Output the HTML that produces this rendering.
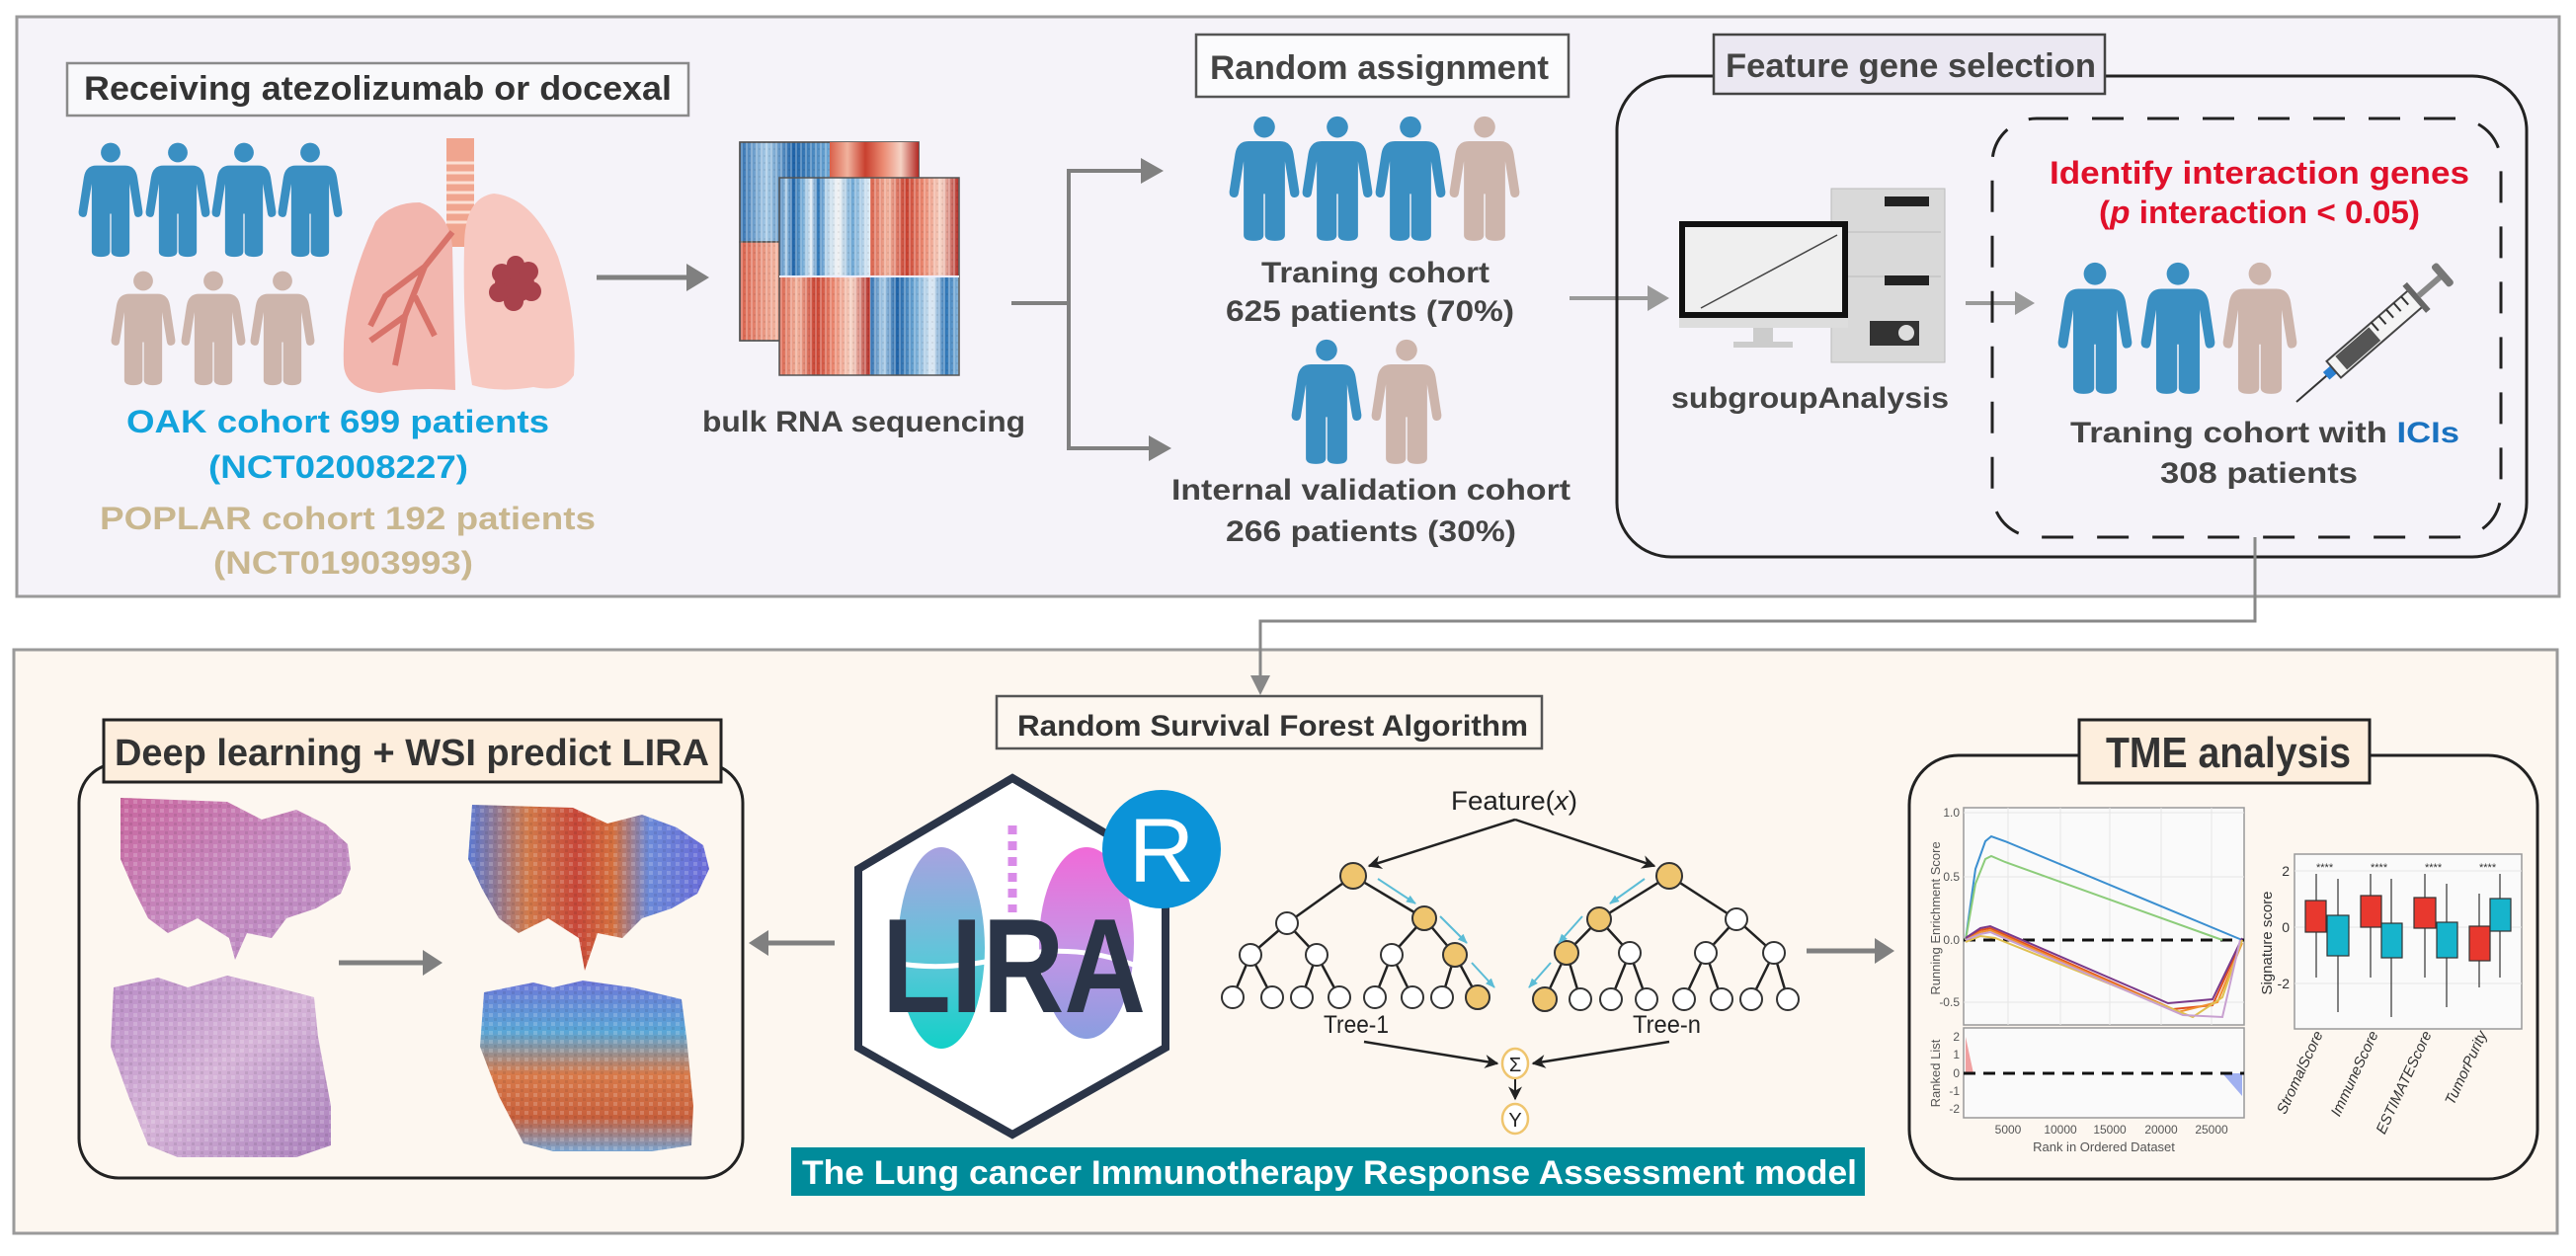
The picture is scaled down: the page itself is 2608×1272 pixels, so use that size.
<!DOCTYPE html>
<html><head><meta charset="utf-8"><style>
html,body{margin:0;padding:0;background:#fff}
svg{display:block}
text{font-family:"Liberation Sans",Arial,sans-serif}
</style></head><body>
<svg width="2608" height="1272" viewBox="0 0 2608 1272" xmlns="http://www.w3.org/2000/svg">
<defs>
<symbol id="p" viewBox="0 0 100 176"><circle cx="50" cy="16" r="15"/><path d="M28,36 H72 Q88,36 91,54 L99,106 Q100,114 93,115 Q87,116 86,108 L79,64 V168 Q79,176 65,176 Q51,176 51,168 V110 H49 V168 Q49,176 35,176 Q21,176 21,168 V64 L14,108 Q13,116 7,115 Q0,114 1,106 L9,54 Q12,36 28,36 Z"/></symbol>
<marker id="ab" viewBox="0 0 10 10" refX="9" refY="5" markerWidth="14" markerHeight="14" orient="auto" markerUnits="userSpaceOnUse"><path d="M0,0 L10,5 L0,10 L3,5Z" fill="#222"/></marker>
<marker id="ac" viewBox="0 0 10 10" refX="9" refY="5" markerWidth="10" markerHeight="10" orient="auto" markerUnits="userSpaceOnUse"><path d="M0,1 L10,5 L0,9Z" fill="#5bbcd6"/></marker>
<linearGradient id="hb" x1="0" x2="1"><stop offset="0" stop-color="#2f6fb0"/><stop offset=".15" stop-color="#a8cbe6"/><stop offset=".3" stop-color="#1f63a8"/><stop offset=".5" stop-color="#6da7d4"/><stop offset=".7" stop-color="#dfeaf4"/><stop offset=".85" stop-color="#2d75b6"/><stop offset="1" stop-color="#8cb9de"/></linearGradient>
<linearGradient id="hr" x1="0" x2="1"><stop offset="0" stop-color="#d9604a"/><stop offset=".2" stop-color="#f1b29d"/><stop offset=".4" stop-color="#c8402f"/><stop offset=".6" stop-color="#eb8a72"/><stop offset=".8" stop-color="#f5d2c4"/><stop offset="1" stop-color="#b22a24"/></linearGradient>
<linearGradient id="hm" x1="0" x2="1"><stop offset="0" stop-color="#a8cbe6"/><stop offset=".3" stop-color="#f3f3f3"/><stop offset=".6" stop-color="#6da7d4"/><stop offset="1" stop-color="#e4eef6"/></linearGradient>
<pattern id="hs" width="5" height="7" patternUnits="userSpaceOnUse"><rect width="2" height="7" fill="#fff" opacity=".25"/><rect x="3" y="3" width="2" height="2" fill="#000" opacity=".06"/></pattern>
<linearGradient id="he" x1="0" y1="0" x2="1" y2="1"><stop offset="0" stop-color="#c9679f"/><stop offset=".5" stop-color="#c58ac0"/><stop offset="1" stop-color="#b98dc4"/></linearGradient>
<linearGradient id="he2" x1="0" y1="0" x2="1" y2="1"><stop offset="0" stop-color="#b98cc6"/><stop offset=".5" stop-color="#d6b4d8"/><stop offset="1" stop-color="#a97fbb"/></linearGradient>
<linearGradient id="ht1" x1="0" y1="0" x2="1" y2="0"><stop offset="0" stop-color="#5a78d2"/><stop offset=".25" stop-color="#d27a4a"/><stop offset=".45" stop-color="#c8483a"/><stop offset=".6" stop-color="#d4703e"/><stop offset=".75" stop-color="#6c8ad8"/><stop offset="1" stop-color="#6a6ad8"/></linearGradient>
<linearGradient id="ht2" x1="0" y1="0" x2="0" y2="1"><stop offset="0" stop-color="#6e78d8"/><stop offset=".3" stop-color="#5aa6d6"/><stop offset=".55" stop-color="#d87a4a"/><stop offset=".8" stop-color="#c8603c"/><stop offset="1" stop-color="#7aa4d0"/></linearGradient>
<pattern id="tx" width="9" height="9" patternUnits="userSpaceOnUse"><rect width="4" height="4" fill="#fff" opacity=".18"/><rect x="5" y="5" width="3" height="3" fill="#000" opacity=".08"/></pattern>
<linearGradient id="lg1" x1="0" y1="0" x2="0" y2="1"><stop offset="0" stop-color="#a9a1e0"/><stop offset=".55" stop-color="#5ec6d9"/><stop offset="1" stop-color="#12d0c8"/></linearGradient>
<linearGradient id="lg2" x1="0" y1="0" x2="0" y2="1"><stop offset="0" stop-color="#f06ad8"/><stop offset=".5" stop-color="#c893e6"/><stop offset="1" stop-color="#8a9ee0"/></linearGradient>
</defs>

<rect width="2608" height="1272" fill="#fff"/>
<rect x="17" y="17" width="2574" height="587" fill="#f5f3f9" stroke="#9a9a9a" stroke-width="3"/>
<rect x="68" y="64" width="629" height="53" fill="#f9f9fb" stroke="#8a8a8a" stroke-width="2.5"/>
<text x="85" y="101" font-size="34" font-weight="bold" fill="#333" textLength="595" lengthAdjust="spacingAndGlyphs">Receiving atezolizumab or docexal</text>

<g fill="#3a8fc2">
<use href="#p" x="79" y="139" width="66" height="126"/>
<use href="#p" x="147" y="139" width="66" height="126"/>
<use href="#p" x="214" y="139" width="66" height="126"/>
<use href="#p" x="281" y="139" width="66" height="126"/>
</g>
<g fill="#cdb5ac">
<use href="#p" x="112" y="270" width="66" height="124"/>
<use href="#p" x="183" y="270" width="66" height="124"/>
<use href="#p" x="253" y="270" width="66" height="124"/>
</g>
<g>
<rect x="452" y="140" width="28" height="110" fill="#f0a58f"/>
<g stroke="#fbe0d4" stroke-width="3"><line x1="452" y1="165" x2="480" y2="165"/><line x1="452" y1="175" x2="480" y2="175"/><line x1="452" y1="185" x2="480" y2="185"/><line x1="452" y1="195" x2="480" y2="195"/><line x1="452" y1="205" x2="480" y2="205"/><line x1="452" y1="215" x2="480" y2="215"/><line x1="452" y1="225" x2="480" y2="225"/></g>
<path d="M380,225 Q395,205 425,205 Q455,215 458,250 L461,395 Q420,392 385,398 Q350,395 348,370 Q345,300 380,225Z" fill="#f2b6ae"/>
<path d="M470,250 Q470,200 500,196 Q540,200 565,260 Q585,320 581,380 Q570,398 540,392 Q505,398 478,390 Q468,330 470,250Z" fill="#f7c8c0"/>
<path d="M458,235 L430,270 L410,320 L400,370 M430,270 L390,300 L375,330 M410,320 L375,345 M420,300 L440,340" stroke="#d8736a" stroke-width="6" fill="none"/>
<g fill="#a8424c"><circle cx="521" cy="287" r="20"/><circle cx="508" cy="277" r="10"/><circle cx="535" cy="275" r="10"/><circle cx="538" cy="295" r="10"/><circle cx="520" cy="305" r="10"/><circle cx="505" cy="296" r="10"/><circle cx="522" cy="268" r="9"/></g>
</g>
<text x="128" y="438" font-size="32" font-weight="bold" fill="#12a3dc" textLength="428" lengthAdjust="spacingAndGlyphs">OAK cohort 699 patients</text>
<text x="211" y="484" font-size="32" font-weight="bold" fill="#12a3dc" textLength="263" lengthAdjust="spacingAndGlyphs">(NCT02008227)</text>
<text x="101" y="536" font-size="32" font-weight="bold" fill="#c9b78f" textLength="502" lengthAdjust="spacingAndGlyphs">POPLAR cohort 192 patients</text>
<text x="216" y="581" font-size="32" font-weight="bold" fill="#c9b78f" textLength="263" lengthAdjust="spacingAndGlyphs">(NCT01903993)</text>

<line x1="604" y1="281" x2="700" y2="281" stroke="#808080" stroke-width="5"/>
<path d="M695,267 L718,281 L695,295Z" fill="#808080"/>
<g stroke="#555" stroke-width="1.5">
<rect x="749" y="144" width="181" height="101" fill="url(#hb)"/>
<rect x="749" y="245" width="181" height="100" fill="url(#hr)"/>
<rect x="749" y="144" width="181" height="201" fill="url(#hs)"/>
<rect x="840" y="144" width="90" height="36" fill="url(#hr)" stroke="none"/>
<rect x="789" y="180" width="46" height="100" fill="url(#hb)" stroke="none"/>
<rect x="835" y="180" width="46" height="100" fill="url(#hm)" stroke="none"/>
<rect x="881" y="180" width="90" height="100" fill="url(#hr)" stroke="none"/>
<rect x="789" y="281" width="92" height="99" fill="url(#hr)" stroke="none"/>
<rect x="881" y="281" width="90" height="99" fill="url(#hb)" stroke="none"/>
<rect x="789" y="180" width="182" height="200" fill="url(#hs)"/>
<line x1="789" y1="280" x2="971" y2="280" stroke="#eef" stroke-width="2"/>
</g>
<text x="711" y="437" font-size="30" font-weight="bold" fill="#444" textLength="327" lengthAdjust="spacingAndGlyphs">bulk RNA sequencing</text>

<path d="M1024,307 H1082 V173 H1160 M1082,307 V454 H1168" fill="none" stroke="#808080" stroke-width="4"/>
<path d="M1155,160 L1178,173 L1155,186Z M1163,441 L1186,454 L1163,467Z" fill="#808080"/>

<rect x="1211" y="35" width="377" height="63" fill="#fbfbfd" stroke="#555" stroke-width="2.5"/>
<text x="1225" y="80" font-size="34" font-weight="bold" fill="#444" textLength="343" lengthAdjust="spacingAndGlyphs">Random assignment</text>
<g fill="#3a8fc2"><use href="#p" x="1244" y="110" width="72" height="141"/><use href="#p" x="1318" y="110" width="72" height="141"/><use href="#p" x="1392" y="110" width="72" height="141"/></g>
<use href="#p" x="1467" y="110" width="72" height="141" fill="#cdb5ac"/>
<text x="1277" y="286" font-size="30" font-weight="bold" fill="#444" textLength="231" lengthAdjust="spacingAndGlyphs">Traning cohort</text>
<text x="1241" y="325" font-size="30" font-weight="bold" fill="#444" textLength="292" lengthAdjust="spacingAndGlyphs">625 patients (70%)</text>
<use href="#p" x="1307" y="336" width="72" height="141" fill="#3a8fc2"/>
<use href="#p" x="1388" y="336" width="72" height="141" fill="#cdb5ac"/>
<text x="1186" y="506" font-size="30" font-weight="bold" fill="#444" textLength="404" lengthAdjust="spacingAndGlyphs">Internal validation cohort</text>
<text x="1241" y="548" font-size="30" font-weight="bold" fill="#444" textLength="294" lengthAdjust="spacingAndGlyphs">266 patients (30%)</text>

<line x1="1589" y1="302" x2="1675" y2="302" stroke="#9a9a9a" stroke-width="4"/>
<path d="M1668,289 L1690,302 L1668,315Z" fill="#9a9a9a"/>

<rect x="1637" y="77" width="921" height="487" rx="55" fill="none" stroke="#222" stroke-width="3"/>
<rect x="1735" y="35" width="396" height="60" fill="#ebe8f2" stroke="#444" stroke-width="2.5"/>
<text x="1747" y="78" font-size="34" font-weight="bold" fill="#444" textLength="375" lengthAdjust="spacingAndGlyphs">Feature gene selection</text>
<rect x="1854" y="191" width="115" height="176" fill="#d9d9d9" stroke="#bbb"/>
<rect x="1908" y="199" width="45" height="10" fill="#222"/>
<line x1="1858" y1="235" x2="1965" y2="235" stroke="#bbb"/><line x1="1858" y1="280" x2="1965" y2="280" stroke="#bbb"/>
<rect x="1908" y="279" width="45" height="10" fill="#222"/>
<rect x="1893" y="325" width="50" height="25" fill="#333"/><circle cx="1930" cy="337" r="8" fill="#ddd"/>
<rect x="1700" y="224" width="171" height="98" fill="#111"/>
<rect x="1706" y="230" width="159" height="86" fill="#efefef"/>
<line x1="1722" y1="312" x2="1860" y2="238" stroke="#444" stroke-width="1.5"/>
<rect x="1700" y="322" width="171" height="10" fill="#ddd"/>
<rect x="1775" y="332" width="20" height="14" fill="#ccc"/><rect x="1755" y="346" width="60" height="6" fill="#ccc"/>
<text x="1692" y="413" font-size="30" font-weight="bold" fill="#444" textLength="281" lengthAdjust="spacingAndGlyphs">subgroupAnalysis</text>

<line x1="1990" y1="307" x2="2045" y2="307" stroke="#9a9a9a" stroke-width="4"/>
<path d="M2040,295 L2060,307 L2040,319Z" fill="#9a9a9a"/>

<rect x="2017" y="120" width="515" height="424" rx="45" fill="none" stroke="#222" stroke-width="3" stroke-dasharray="32 24"/>
<text x="2075" y="186" font-size="32" font-weight="bold" fill="#e0102a" textLength="425" lengthAdjust="spacingAndGlyphs">Identify interaction genes</text>
<text x="2125" y="226" font-size="32" font-weight="bold" fill="#e0102a" textLength="325" lengthAdjust="spacingAndGlyphs">(<tspan font-style="italic">p</tspan> interaction &lt; 0.05)</text>
<g fill="#3a8fc2"><use href="#p" x="2083" y="255" width="76" height="154"/><use href="#p" x="2167" y="255" width="76" height="154"/></g>
<use href="#p" x="2250" y="255" width="76" height="154" fill="#cdb5ac"/>
<g transform="translate(2325,407) rotate(-41)">
<line x1="0" y1="0" x2="45" y2="0" stroke="#333" stroke-width="2"/>
<rect x="40" y="-5" width="10" height="10" fill="#2a7fd0"/>
<rect x="50" y="-11" width="110" height="22" fill="#f4f4f4" stroke="#444" stroke-width="2"/>
<rect x="60" y="-9" width="45" height="18" fill="#555"/>
<g stroke="#333" stroke-width="2"><line x1="110" y1="-11" x2="110" y2="0"/><line x1="120" y1="-11" x2="120" y2="0"/><line x1="130" y1="-11" x2="130" y2="0"/><line x1="140" y1="-11" x2="140" y2="0"/><line x1="150" y1="-11" x2="150" y2="0"/></g>
<rect x="158" y="-18" width="6" height="36" fill="#666"/>
<rect x="164" y="-3" width="30" height="6" fill="#888"/>
<rect x="192" y="-14" width="8" height="28" rx="3" fill="#777"/>
</g>
<text x="2096" y="448" font-size="30" font-weight="bold" fill="#444" textLength="394" lengthAdjust="spacingAndGlyphs">Traning cohort with <tspan fill="#1a72c0">ICIs</tspan></text>
<text x="2187" y="489" font-size="30" font-weight="bold" fill="#444" textLength="200" lengthAdjust="spacingAndGlyphs">308 patients</text>

<rect x="14" y="658" width="2575" height="591" fill="#fdf7f0" stroke="#9a9a9a" stroke-width="3"/>
<path d="M2283,544 V629 H1276 V690" fill="none" stroke="#888" stroke-width="3"/>
<path d="M1266,684 L1276,704 L1286,684Z" fill="#888"/>
<rect x="1009" y="705" width="552" height="53" fill="none" stroke="#555" stroke-width="2.5"/>
<text x="1030" y="745" font-size="30" font-weight="bold" fill="#333" textLength="517" lengthAdjust="spacingAndGlyphs">Random Survival Forest Algorithm</text>

<rect x="80" y="773" width="672" height="420" rx="40" fill="none" stroke="#222" stroke-width="3"/>
<rect x="105" y="729" width="625" height="63" fill="#fdeedd" stroke="#222" stroke-width="3"/>
<text x="116" y="775" font-size="38" font-weight="bold" fill="#333" textLength="602" lengthAdjust="spacingAndGlyphs">Deep learning + WSI predict LIRA</text>
<polygon points="122,808 230,812 265,830 300,820 330,835 352,855 355,880 345,905 320,920 290,930 275,950 250,945 238,972 232,950 200,930 170,945 150,930 135,900 122,870" fill="url(#he)"/>
<polygon points="122,808 230,812 265,830 300,820 330,835 352,855 355,880 345,905 320,920 290,930 275,950 250,945 238,972 232,950 200,930 170,945 150,930 135,900 122,870" fill="url(#tx)"/>
<polygon points="115,1000 160,990 190,1000 230,988 280,1000 318,1010 322,1050 335,1120 335,1160 300,1172 180,1172 150,1160 130,1110 112,1060" fill="url(#he2)"/>
<polygon points="115,1000 160,990 190,1000 230,988 280,1000 318,1010 322,1050 335,1120 335,1160 300,1172 180,1172 150,1160 130,1110 112,1060" fill="url(#tx)"/>
<line x1="343" y1="975" x2="430" y2="975" stroke="#808080" stroke-width="5"/>
<path d="M428,962 L448,975 L428,988Z" fill="#808080"/>
<polygon points="478,815 580,818 615,834 650,825 685,838 712,856 718,880 706,905 680,920 650,930 630,950 605,945 592,983 586,950 555,930 525,945 505,930 488,900 474,870" fill="url(#ht1)"/>
<polygon points="478,815 580,818 615,834 650,825 685,838 712,856 718,880 706,905 680,920 650,930 630,950 605,945 592,983 586,950 555,930 525,945 505,930 488,900 474,870" fill="url(#tx)"/>
<polygon points="490,1005 540,995 560,1000 590,993 640,1000 690,1012 695,1050 702,1120 700,1160 660,1166 560,1166 530,1158 505,1110 486,1060" fill="url(#ht2)"/>
<polygon points="490,1005 540,995 560,1000 590,993 640,1000 690,1012 695,1050 702,1120 700,1160 660,1166 560,1166 530,1158 505,1110 486,1060" fill="url(#tx)"/>

<line x1="845" y1="955" x2="775" y2="955" stroke="#808080" stroke-width="5"/>
<path d="M778,942 L758,955 L778,968Z" fill="#808080"/>

<polygon points="1025,788 1180,880 1180,1061 1025,1149 869,1061 869,880" fill="#fff" stroke="#2b3548" stroke-width="8"/>
<ellipse cx="953" cy="960" rx="44" ry="102" fill="url(#lg1)"/>
<ellipse cx="1100" cy="955" rx="48" ry="97" fill="url(#lg2)"/>
<line x1="1025" y1="836" x2="1025" y2="924" stroke="#d98be8" stroke-width="9" stroke-dasharray="9 7"/>
<path d="M905,975 Q960,985 1025,968 Q1090,955 1150,978" stroke="#fff" stroke-width="5" fill="none"/>
<text x="893" y="1025" font-size="136" font-weight="bold" fill="#2b3548" textLength="267" lengthAdjust="spacingAndGlyphs">LIRA</text>
<circle cx="1176" cy="860" r="60" fill="#0b93d8"/>
<text x="1176" y="893" font-size="92" fill="#fff" text-anchor="middle">R</text>
<rect x="801" y="1162" width="1087" height="49" fill="#008b9a"/>
<text x="812" y="1199" font-size="34" font-weight="bold" fill="#fff" textLength="1068" lengthAdjust="spacingAndGlyphs">The Lung cancer Immunotherapy Response Assessment model</text>

<text x="1469" y="820" font-size="27" fill="#222" textLength="128" lengthAdjust="spacingAndGlyphs">Feature(<tspan font-style="italic">x</tspan>)</text>
<line x1="1534" y1="830" x2="1386" y2="877" stroke="#222" stroke-width="2.5" marker-end="url(#ab)"/>
<line x1="1534" y1="830" x2="1675" y2="877" stroke="#222" stroke-width="2.5" marker-end="url(#ab)"/>
<g stroke="#222" stroke-width="2.5">
<path d="M1370,887 L1303,935 M1370,887 L1442,930 M1303,935 L1266,967 M1303,935 L1333,967 M1442,930 L1409,967 M1442,930 L1473,967 M1266,967 L1248,1010 M1266,967 L1288,1010 M1333,967 L1318,1010 M1333,967 L1356,1010 M1409,967 L1392,1010 M1409,967 L1430,1010 M1473,967 L1460,1010 M1473,967 L1496,1010"/>
<path d="M1690,887 L1619,931 M1690,887 L1758,931 M1619,931 L1586,965 M1619,931 L1650,965 M1758,931 L1727,965 M1758,931 L1796,965 M1586,965 L1564,1012 M1586,965 L1600,1012 M1650,965 L1631,1012 M1650,965 L1667,1012 M1727,965 L1705,1012 M1727,965 L1743,1012 M1796,965 L1773,1012 M1796,965 L1810,1012"/>
</g>
<g stroke="#333" stroke-width="2" fill="#fff">
<circle cx="1370" cy="887" r="13" fill="#efc56e"/><circle cx="1303" cy="935" r="11"/><circle cx="1442" cy="930" r="12" fill="#efc56e"/>
<circle cx="1266" cy="967" r="11"/><circle cx="1333" cy="967" r="11"/><circle cx="1409" cy="967" r="11"/><circle cx="1473" cy="967" r="12" fill="#efc56e"/>
<circle cx="1248" cy="1010" r="11"/><circle cx="1288" cy="1010" r="11"/><circle cx="1318" cy="1010" r="11"/><circle cx="1356" cy="1010" r="11"/><circle cx="1392" cy="1010" r="11"/><circle cx="1430" cy="1010" r="11"/><circle cx="1460" cy="1010" r="11"/><circle cx="1496" cy="1010" r="12" fill="#efc56e"/>
<circle cx="1690" cy="887" r="13" fill="#efc56e"/><circle cx="1619" cy="931" r="12" fill="#efc56e"/><circle cx="1758" cy="931" r="11"/>
<circle cx="1586" cy="965" r="12" fill="#efc56e"/><circle cx="1650" cy="965" r="11"/><circle cx="1727" cy="965" r="11"/><circle cx="1796" cy="965" r="11"/>
<circle cx="1564" cy="1012" r="12" fill="#efc56e"/><circle cx="1600" cy="1012" r="11"/><circle cx="1631" cy="1012" r="11"/><circle cx="1667" cy="1012" r="11"/><circle cx="1705" cy="1012" r="11"/><circle cx="1743" cy="1012" r="11"/><circle cx="1773" cy="1012" r="11"/><circle cx="1810" cy="1012" r="11"/>
</g>
<g stroke="#5bbcd6" stroke-width="2" fill="none">
<line x1="1395" y1="890" x2="1433" y2="915" marker-end="url(#ac)"/>
<line x1="1458" y1="928" x2="1485" y2="955" marker-end="url(#ac)"/>
<line x1="1490" y1="975" x2="1513" y2="1000" marker-end="url(#ac)"/>
<line x1="1665" y1="890" x2="1630" y2="915" marker-end="url(#ac)"/>
<line x1="1602" y1="928" x2="1578" y2="955" marker-end="url(#ac)"/>
<line x1="1570" y1="975" x2="1548" y2="1000" marker-end="url(#ac)"/>
</g>
<text x="1340" y="1046" font-size="25" fill="#222" textLength="66" lengthAdjust="spacingAndGlyphs">Tree-1</text>
<text x="1653" y="1046" font-size="25" fill="#222" textLength="69" lengthAdjust="spacingAndGlyphs">Tree-n</text>
<line x1="1381" y1="1055" x2="1516" y2="1077" stroke="#222" stroke-width="2.5" marker-end="url(#ab)"/>
<line x1="1690" y1="1055" x2="1552" y2="1077" stroke="#222" stroke-width="2.5" marker-end="url(#ab)"/>
<ellipse cx="1534" cy="1077" rx="13" ry="15" fill="#fff" stroke="#efc56e" stroke-width="2.5"/>
<text x="1534" y="1085" font-size="20" fill="#222" text-anchor="middle">Σ</text>
<line x1="1534" y1="1093" x2="1534" y2="1113" stroke="#222" stroke-width="2" marker-end="url(#ab)"/>
<ellipse cx="1534" cy="1133" rx="13" ry="15" fill="#fff" stroke="#efc56e" stroke-width="2.5"/>
<text x="1534" y="1141" font-size="20" fill="#222" text-anchor="middle">Y</text>

<line x1="1829" y1="963" x2="1900" y2="963" stroke="#808080" stroke-width="5"/>
<path d="M1898,950 L1918,963 L1898,976Z" fill="#808080"/>

<rect x="1933" y="765" width="636" height="429" rx="50" fill="none" stroke="#222" stroke-width="3"/>
<rect x="2105" y="729" width="294" height="64" fill="#fdeedd" stroke="#222" stroke-width="3"/>
<text x="2132" y="777" font-size="44" font-weight="bold" fill="#333" textLength="248" lengthAdjust="spacingAndGlyphs">TME analysis</text>
<rect x="1988" y="818" width="284" height="220" fill="#fafafa" stroke="#999" stroke-width="1.5"/>
<g stroke="#e6e6e6" stroke-width="1"><line x1="1988" y1="823" x2="2272" y2="823"/><line x1="1988" y1="888" x2="2272" y2="888"/><line x1="1988" y1="1015" x2="2272" y2="1015"/><line x1="2033" y1="818" x2="2033" y2="1038"/><line x1="2086" y1="818" x2="2086" y2="1038"/><line x1="2136" y1="818" x2="2136" y2="1038"/><line x1="2188" y1="818" x2="2188" y2="1038"/><line x1="2239" y1="818" x2="2239" y2="1038"/></g>
<line x1="1988" y1="952" x2="2272" y2="952" stroke="#111" stroke-width="3" stroke-dasharray="12 8"/>
<polyline points="1990,952 2000,880 2010,852 2016,847 2030,852 2270,952" fill="none" stroke="#3b8fd0" stroke-width="2"/>
<polyline points="1990,952 2000,895 2010,870 2016,867 2030,873 2250,952" fill="none" stroke="#8ccc7a" stroke-width="2"/>
<polyline points="1990,952 2005,942 2015,940 2200,1022 2240,1018 2270,952" fill="none" stroke="#e05020" stroke-width="2"/>
<polyline points="1990,952 2005,944 2015,942 2205,1025 2245,1015 2270,955" fill="none" stroke="#f09030" stroke-width="2"/>
<polyline points="1990,950 2005,940 2015,938 2195,1016 2240,1012 2270,950" fill="none" stroke="#7a3a8a" stroke-width="2"/>
<polyline points="1990,954 2005,948 2020,950 2220,1030 2250,1010 2270,952" fill="none" stroke="#e0c050" stroke-width="2"/>
<polyline points="1990,952 2005,946 2015,944 2210,1028 2250,1030 2268,952" fill="none" stroke="#c8a0d0" stroke-width="2"/>
<rect x="1988" y="1041" width="284" height="91" fill="#fafafa" stroke="#999" stroke-width="1.5"/>
<path d="M1990,1050 L1998,1087 L1990,1087Z" fill="#f0a0a0"/>
<path d="M2250,1087 L2270,1087 L2270,1110Z" fill="#a0b0f0"/>
<line x1="1988" y1="1087" x2="2272" y2="1087" stroke="#111" stroke-width="3" stroke-dasharray="12 8"/>
<g font-size="12" fill="#555">
<text x="1984" y="827" text-anchor="end">1.0</text><text x="1984" y="892" text-anchor="end">0.5</text><text x="1984" y="956" text-anchor="end">0.0</text><text x="1984" y="1019" text-anchor="end">-0.5</text>
<text x="1984" y="1054" text-anchor="end">2</text><text x="1984" y="1072" text-anchor="end">1</text><text x="1984" y="1091" text-anchor="end">0</text><text x="1984" y="1109" text-anchor="end">-1</text><text x="1984" y="1127" text-anchor="end">-2</text>
<text x="2033" y="1148" text-anchor="middle">5000</text><text x="2086" y="1148" text-anchor="middle">10000</text><text x="2136" y="1148" text-anchor="middle">15000</text><text x="2188" y="1148" text-anchor="middle">20000</text><text x="2239" y="1148" text-anchor="middle">25000</text>
<text x="2130" y="1166" text-anchor="middle" font-size="13">Rank in Ordered Dataset</text>
<text transform="translate(1964,930) rotate(-90)" text-anchor="middle" font-size="13">Running Enrichment Score</text>
<text transform="translate(1964,1087) rotate(-90)" text-anchor="middle" font-size="13">Ranked List</text>
</g>
<rect x="2323" y="865" width="230" height="177" fill="#fafafa" stroke="#999" stroke-width="1.5"/>
<g stroke="#e6e6e6"><line x1="2323" y1="882" x2="2553" y2="882"/><line x1="2323" y1="939" x2="2553" y2="939"/><line x1="2323" y1="996" x2="2553" y2="996"/></g>
<g stroke="#333" stroke-width="1.2">
<line x1="2345" y1="885" x2="2345" y2="990"/><line x1="2367" y1="890" x2="2367" y2="1025"/>
<line x1="2400" y1="885" x2="2400" y2="990"/><line x1="2421" y1="890" x2="2421" y2="1030"/>
<line x1="2455" y1="885" x2="2455" y2="990"/><line x1="2477" y1="895" x2="2477" y2="1020"/>
<line x1="2510" y1="905" x2="2510" y2="1000"/><line x1="2531" y1="885" x2="2531" y2="990"/>
<rect x="2334" y="912" width="21" height="32" fill="#e8382e"/><rect x="2356" y="927" width="22" height="41" fill="#16b4cc"/>
<rect x="2390" y="907" width="21" height="32" fill="#e8382e"/><rect x="2411" y="935" width="21" height="35" fill="#16b4cc"/>
<rect x="2444" y="909" width="22" height="31" fill="#e8382e"/><rect x="2467" y="934" width="21" height="36" fill="#16b4cc"/>
<rect x="2500" y="938" width="21" height="35" fill="#e8382e"/><rect x="2521" y="910" width="21" height="33" fill="#16b4cc"/>
</g>
<g font-size="13" fill="#333">
<text x="2345" y="882" font-size="11">****</text><text x="2400" y="882" font-size="11">****</text><text x="2455" y="882" font-size="11">****</text><text x="2510" y="882" font-size="11">****</text>
<text x="2318" y="887" text-anchor="end" font-size="14">2</text><text x="2318" y="944" text-anchor="end" font-size="14">0</text><text x="2318" y="1001" text-anchor="end" font-size="14">-2</text>
<text transform="translate(2300,955) rotate(-90)" text-anchor="middle" font-size="15">Signature score</text>
<text transform="translate(2352,1047) rotate(-65)" text-anchor="end" font-size="15" font-style="italic">StromalScore</text>
<text transform="translate(2408,1047) rotate(-65)" text-anchor="end" font-size="15" font-style="italic">ImmuneScore</text>
<text transform="translate(2462,1047) rotate(-65)" text-anchor="end" font-size="15" font-style="italic">ESTIMATEScore</text>
<text transform="translate(2518,1047) rotate(-65)" text-anchor="end" font-size="15" font-style="italic">TumorPurity</text>
</g>
</svg>
</body></html>
